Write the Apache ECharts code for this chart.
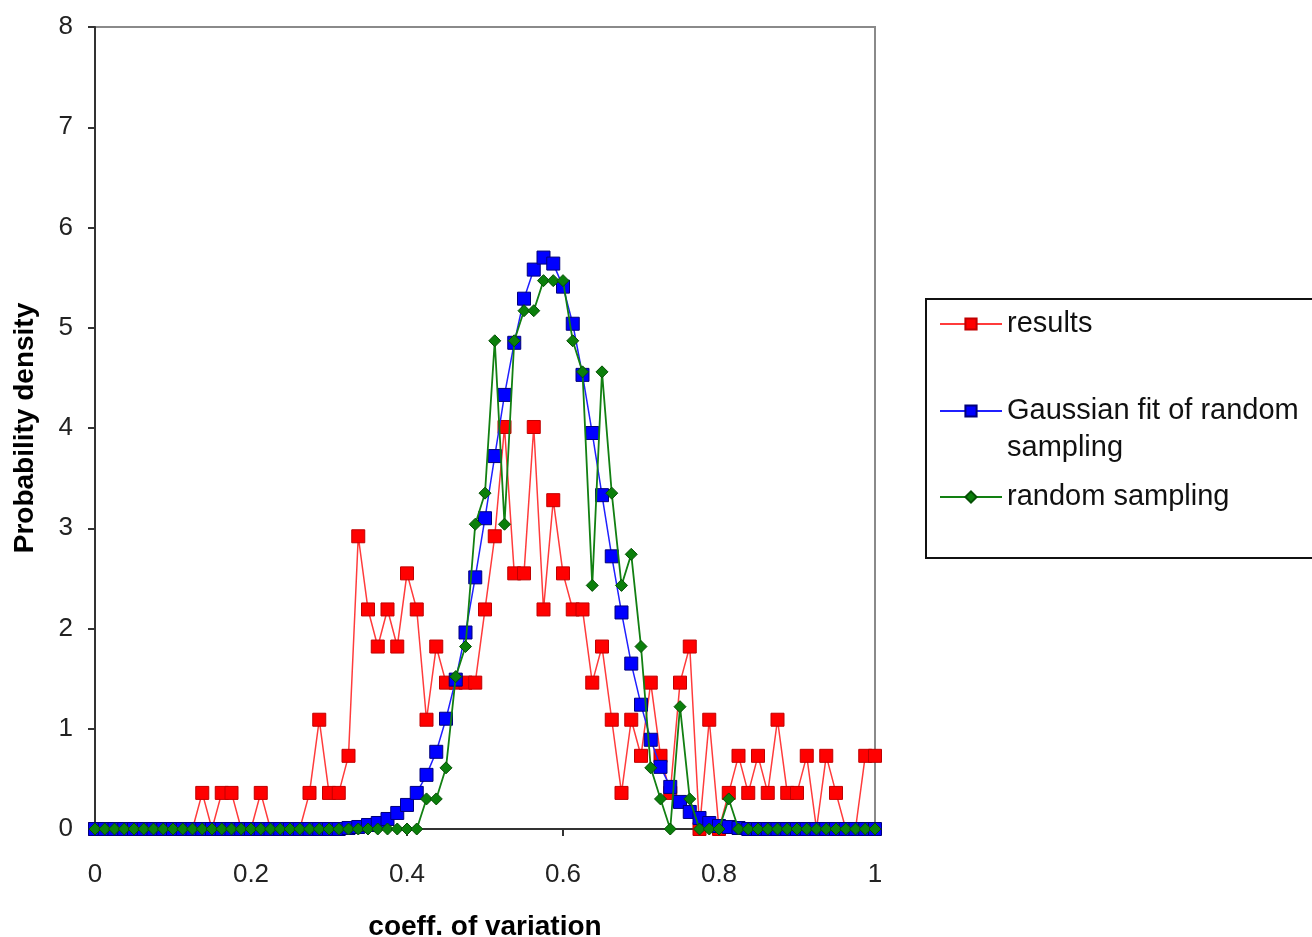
<!DOCTYPE html>
<html>
<head>
<meta charset="utf-8">
<script src="https://cdn.jsdelivr.net/npm/echarts@6/dist/echarts.min.js"></script>
<style>
  html, body { margin: 0; padding: 0; background: #fff; }
  #main { width: 1312px; height: 937px; }
</style>
</head>
<body>
<div id="main"></div>
<script>
// bins of the coefficient of variation, step 0.0125 from 0 to 1
const binStep = 0.0125;

// results (red squares)
const results = [
  0, 0, 0, 0, 0, 0, 0, 0, 0, 0,
  0, 0.36, 0, 0.36, 0.36, 0, 0, 0.36, 0, 0,
  0, 0, 0.36, 1.09, 0.36, 0.36, 0.73, 2.92, 2.19, 1.82,
  2.19, 1.82, 2.55, 2.19, 1.09, 1.82, 1.46, 1.46, 1.46, 1.46,
  2.19, 2.92, 4.01, 2.55, 2.55, 4.01, 2.19, 3.28, 2.55, 2.19,
  2.19, 1.46, 1.82, 1.09, 0.36, 1.09, 0.73, 1.46, 0.73, 0.36,
  1.46, 1.82, 0, 1.09, 0, 0.36, 0.73, 0.36, 0.73, 0.36,
  1.09, 0.36, 0.36, 0.73, 0, 0.73, 0.36, 0, 0, 0.73,
  0.73
];

// Gaussian fit of random sampling (blue squares)
const gaussFit = [
  0, 0, 0, 0, 0, 0, 0, 0, 0, 0,
  0, 0, 0, 0, 0, 0, 0, 0, 0, 0,
  0, 0, 0, 0, 0, 0, 0.01, 0.02, 0.04, 0.06,
  0.1, 0.16, 0.24, 0.36, 0.54, 0.77, 1.1, 1.49, 1.96, 2.51,
  3.1, 3.72, 4.33, 4.85, 5.29, 5.58, 5.7, 5.64, 5.41, 5.04,
  4.53, 3.95, 3.33, 2.72, 2.16, 1.65, 1.24, 0.89, 0.62, 0.42,
  0.27, 0.17, 0.11, 0.06, 0.03, 0.02, 0.01, 0, 0, 0,
  0, 0, 0, 0, 0, 0, 0, 0, 0, 0,
  0
];

// random sampling (green diamonds)
const randomSampling = [
  0, 0, 0, 0, 0, 0, 0, 0, 0, 0,
  0, 0, 0, 0, 0, 0, 0, 0, 0, 0,
  0, 0, 0, 0, 0, 0, 0, 0, 0, 0,
  0, 0, 0, 0, 0.3, 0.3, 0.61, 1.52, 1.82, 3.04,
  3.35, 4.87, 3.04, 4.87, 5.17, 5.17, 5.47, 5.47, 5.47, 4.87,
  4.56, 2.43, 4.56, 3.35, 2.43, 2.74, 1.82, 0.61, 0.3, 0,
  1.22, 0.3, 0, 0, 0, 0.3, 0, 0, 0, 0,
  0, 0, 0, 0, 0, 0, 0, 0, 0, 0,
  0
];

const seriesNames = ['results', 'Gaussian fit of random sampling', 'random sampling'];

const toPairs = (vals) => vals.map((v, i) => [+(i * binStep).toFixed(4), v]);

const font = '"Liberation Sans", Arial, sans-serif';

const chart = echarts.init(document.getElementById('main'));

const legendBase = {
  orient: 'vertical',
  left: 939,
  padding: 0,
  itemWidth: 62,
  itemHeight: 14,
  textStyle: { fontFamily: font, fontSize: 29, color: '#111', lineHeight: 37 },
  selectedMode: false
};

chart.setOption({
  animation: false,
  backgroundColor: '#fff',
  graphic: [{
    type: 'rect',
    left: 925, top: 298,
    shape: { width: 420, height: 259 },
    style: { fill: '#fff', stroke: '#111', lineWidth: 2 },
    z: -1
  }],
  legend: [
    Object.assign({}, legendBase, { top: 324 - 18.5, data: [seriesNames[0]] }),
    Object.assign({}, legendBase, {
      top: 411 - 55.5,
      data: [seriesNames[1]],
      // blank first line keeps the icon level with the first text line
      formatter: () => ' \nGaussian fit of random\nsampling'
    }),
    Object.assign({}, legendBase, { top: 497 - 18.5, data: [seriesNames[2]] })
  ],
  grid: {
    left: 95, right: 437, top: 27, bottom: 108,
    outerBoundsMode: 'none',
    show: true, borderColor: '#8a8a8a', borderWidth: 2, backgroundColor: 'transparent'
  },
  xAxis: {
    type: 'value', min: 0, max: 1, interval: 0.2,
    name: 'coeff. of variation', nameLocation: 'middle', nameGap: 84,
    nameTextStyle: { fontFamily: font, fontSize: 28, fontWeight: 'bold', color: '#000' },
    axisLine: { show: true, lineStyle: { color: '#333', width: 2 } },
    axisTick: { show: true, inside: false, length: 7, lineStyle: { color: '#333', width: 2 } },
    axisLabel: { fontFamily: font, fontSize: 26, color: '#222', margin: 33 },
    splitLine: { show: false }
  },
  yAxis: {
    type: 'value', min: 0, max: 8, interval: 1,
    name: 'Probability density', nameLocation: 'middle', nameGap: 56, nameRotate: 90,
    nameTextStyle: { fontFamily: font, fontSize: 28, fontWeight: 'bold', color: '#000' },
    axisLine: { show: true, lineStyle: { color: '#333', width: 2 } },
    axisTick: { show: true, inside: false, length: 7, lineStyle: { color: '#333', width: 2 } },
    axisLabel: { fontFamily: font, fontSize: 26, color: '#222', margin: 22 },
    splitLine: { show: false }
  },
  series: [
    {
      name: seriesNames[0], type: 'line', z: 2,
      data: toPairs(results),
      symbol: 'rect', symbolSize: 13,
      lineStyle: { color: '#ff3b3b', width: 1.5 },
      itemStyle: { color: '#ff0000', borderColor: '#c00000', borderWidth: 1 }
    },
    {
      name: seriesNames[1], type: 'line', z: 3,
      data: toPairs(gaussFit),
      symbol: 'rect', symbolSize: 13,
      lineStyle: { color: '#2020ff', width: 1.5 },
      itemStyle: { color: '#0000ff', borderColor: '#00007a', borderWidth: 1 }
    },
    {
      name: seriesNames[2], type: 'line', z: 4,
      data: toPairs(randomSampling),
      symbol: 'diamond', symbolSize: 12,
      lineStyle: { color: '#128012', width: 1.8 },
      itemStyle: { color: '#0b7f0b', borderColor: '#055005', borderWidth: 1 }
    }
  ]
});
</script>
</body>
</html>
